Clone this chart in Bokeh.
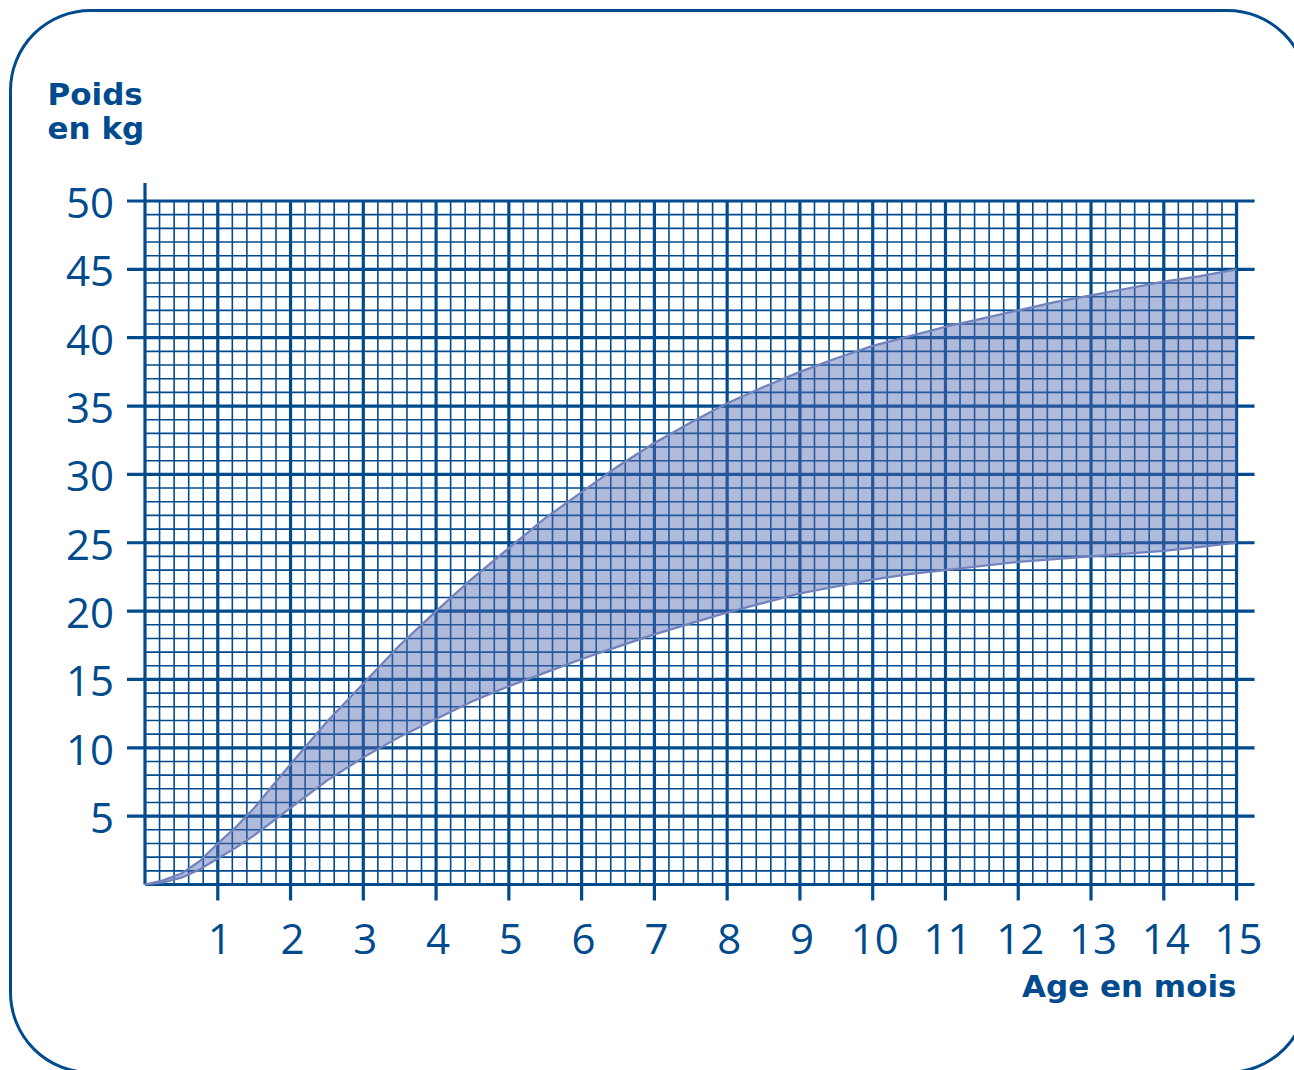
import numpy as np
from bokeh.plotting import figure
from bokeh.models import Range1d
from bokeh.core.properties import value
from bokeh.embed import file_html
from bokeh.resources import INLINE

# ---- data ----
months = [0, 0.25, 0.5, 0.75, 1, 1.25, 1.5, 1.75, 2, 2.5, 3, 3.5, 4, 4.5, 5,
          5.5, 6, 6.5, 7, 7.5, 8, 8.5, 9, 9.5, 10, 10.5, 11, 11.5, 12, 12.5,
          13, 13.5, 14, 14.5, 15]
upper_kg = [0, 0.3, 0.8, 1.7, 3.0, 4.2, 5.6, 7.2, 8.8, 11.9, 14.7, 17.5, 20.0,
            22.4, 24.6, 26.8, 28.7, 30.6, 32.3, 33.8, 35.2, 36.4, 37.5, 38.5,
            39.4, 40.1, 40.8, 41.4, 42.0, 42.6, 43.1, 43.6, 44.1, 44.5, 45.0]
lower_kg = [0, 0.15, 0.5, 1.1, 1.9, 2.7, 3.6, 4.6, 5.6, 7.6, 9.3, 10.8, 12.1,
            13.4, 14.5, 15.5, 16.5, 17.4, 18.3, 19.1, 19.9, 20.6, 21.3, 21.8,
            22.3, 22.7, 23.0, 23.3, 23.6, 23.8, 24.0, 24.2, 24.4, 24.7, 25.0]
x_ticks = list(range(1, 16))
y_ticks = list(range(5, 51, 5))
x_tick_labels = [str(v) for v in x_ticks]
y_tick_labels = [str(v) for v in y_ticks]
x_minor_step = 0.2
y_minor_step = 1
x_max = 15
y_max = 50
y_title = ["Poids", "en kg"]
x_title = "Age en mois"

BLUE = "#004b8d"
FONT = value("Open Sans")
TFONT = value("DejaVu Sans")

# ---- geometry: canvas px <-> data ----
W, H = 1294, 1070
XS = 72.77      # px per month
YS = 13.67      # px per kg
X0 = 144.5      # canvas x of month 0
Y0 = 884.0      # canvas y of 0 kg

def dx(px):
    return (px - X0) / XS

def dy(py):
    return (Y0 - py) / YS

def dlen_x(px):
    return px / XS

def dlen_y(py):
    return py / YS

p = figure(width=W, height=H, x_range=Range1d(dx(0), dx(W)),
           y_range=Range1d(dy(H), dy(0)), output_backend="svg",
           toolbar_location=None, min_border=0)
p.outline_line_color = None
p.axis.visible = False
p.grid.visible = False

# ---- grid (graph paper) ----
mx = np.round(np.arange(0, x_max + 1e-9, x_minor_step), 6)
mx = mx[np.abs(mx - np.round(mx)) > 1e-6]
my = np.arange(0, y_max + 1e-9, y_minor_step)
my = my[np.abs(my % 5) > 1e-6]

p.segment(x0=mx, y0=0, x1=mx, y1=y_max, line_color=BLUE, line_width=1.6)
p.segment(x0=0, y0=my, x1=x_max, y1=my, line_color=BLUE, line_width=1.6)

xt = np.array(x_ticks, dtype=float)
yt = np.array(y_ticks, dtype=float)
ext_x = dlen_x(18)
ext_y = dlen_y(16)
p.segment(x0=xt, y0=-ext_y, x1=xt, y1=y_max, line_color=BLUE, line_width=3.2)
p.segment(x0=-ext_x, y0=yt, x1=x_max + ext_x, y1=yt, line_color=BLUE, line_width=3.2)
# axis lines
p.segment(x0=[0], y0=[0], x1=[x_max + ext_x], y1=[0], line_color=BLUE, line_width=3.2)
p.segment(x0=[0], y0=[0], x1=[0], y1=[y_max + dlen_y(18)], line_color=BLUE, line_width=3.2)

# ---- band ----
p.varea(x=months, y1=lower_kg, y2=upper_kg, fill_color="#4f66ad", fill_alpha=0.45)
p.line(months, upper_kg, line_color="#7282bd", line_width=2.2)
p.line(months, lower_kg, line_color="#7282bd", line_width=2.2)

# ---- tick labels ----
p.text(x=xt + dlen_x(2), y=-dlen_y(54), text=x_tick_labels, text_align="center",
       text_baseline="alphabetic", text_font=FONT, text_font_size="42px",
       text_color=BLUE)
p.text(x=-dlen_x(31), y=yt - dlen_y(2), text=y_tick_labels, text_align="right",
       text_baseline="alphabetic", text_font=FONT, text_font_size="42px",
       text_color=BLUE)

# ---- titles ----
p.text(x=[dx(47)] * 2, y=[dy(93), dy(127)], text=y_title, text_align="left",
       text_baseline="alphabetic", text_font=TFONT, text_font_style="bold",
       text_font_size="31px", text_color=BLUE)
p.text(x=[x_max], y=[dy(985)], text=[x_title], text_align="right",
       text_baseline="alphabetic", text_font=TFONT, text_font_style="bold",
       text_font_size="31px", text_color=BLUE)

# ---- rounded frame ----
p.quad(left=[dx(10)], right=[dx(1307)], top=[dy(10)], bottom=[dy(1072)],
       fill_color=None, line_color=BLUE, line_width=3, border_radius=80)

open("out.html", "w").write(file_html(p, INLINE))
